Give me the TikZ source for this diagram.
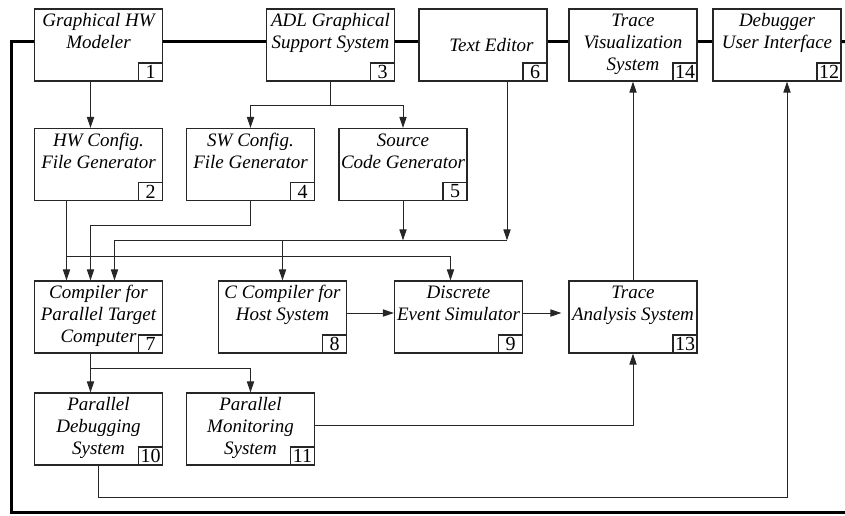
\documentclass[tikz,border=0pt]{standalone}
\usepackage{fontspec}
\setmainfont{Liberation Serif}
\usetikzlibrary{arrows.meta,calc}

\begin{document}
\begin{tikzpicture}[x=0.5pt, y=-0.5pt,
  unit/.style={rectangle,draw=black!85,line width=0.6pt,minimum width=64pt,minimum height=36pt,inner sep=0pt},
  caption/.style={anchor=north,align=center,inner sep=0pt,font=\fontsize{9.5}{11}\selectfont\itshape},
  numbox/.style={rectangle,draw=black!85,line width=0.6pt,anchor=south east,minimum width=12pt,minimum height=9pt,inner sep=0pt,font=\fontsize{10}{10}\selectfont},
  flow/.style={draw=black!85,line width=0.5pt,-{Triangle[length=5.5pt,width=3.6pt]}},
  link/.style={draw=black!85,line width=0.5pt},
  mainbus/.style={draw=black,line width=1.5pt}
]
\useasboundingbox (0,0) rectangle (845,515);

% tool boxes
\foreach \n/\x/\y/\txt in {
  1/98.5/45/{Graphical HW\\Modeler},
  3/330.5/45/{ADL Graphical\\Support System},
  14/633/45/{Trace\\Visualization\\System},
  12/777/45/{Debugger\\User Interface},
  2/98.5/164.5/{HW Config.\\File Generator},
  4/250.5/164.5/{SW Config.\\File Generator},
  5/403/164.5/{Source\\Code Generator},
  7/98.5/317/{Compiler for\\Parallel Target\\Computer},
  8/282.5/317/{C Compiler for\\Host System},
  9/458.5/317/{Discrete\\Event Simulator},
  13/633/317/{Trace\\Analysis System},
  10/98.5/429/{Parallel\\Debugging\\System},
  11/250.5/429/{Parallel\\Monitoring\\System}}
{
  \node[unit] (b\n) at (\x,\y) {};
  \node[caption] (t\n) at ([yshift=-2pt]b\n.north) {\rule{0pt}{7pt}\txt};
  \node[numbox] (n\n) at (b\n.south east) {\n};
}
\node[unit] (b6) at (483,45) {};
\node[caption] (t6) at ([xshift=4.2pt,yshift=-14.5pt]b6.north) {\rule{0pt}{7pt}Text Editor};
\node[numbox] (n6) at (b6.south east) {6};

% thick bus along the top
\coordinate (eT) at (845,41.7);
\coordinate (eB) at (845,512.3);
\coordinate (wB) at (11.5,512.3);
\foreach \a/\b in {1/3,3/6,6/14,14/12}
  \draw[mainbus] ([yshift=1.7pt]b\a.east) -- ([yshift=1.7pt]b\b.west);
\draw[mainbus] ([yshift=1.7pt]b12.east) -- (eT);
\draw[mainbus] ([yshift=1.7pt]b1.west) -| (wB) -- (eB);

% data flow
\draw[flow] ([xshift=-4pt]b1.south) -- ([xshift=-4pt]b2.north);
\draw[link] (b3.south) -- ++(0,24) coordinate (j3);
\draw[flow] (j3) -| (b4.north);
\draw[flow] (j3) -| (b5.north);

\draw[flow] ([xshift=-16pt]b2.south) -- ([xshift=-16pt]b7.north);
\draw[flow] ([xshift=-16pt]b2.south) |- ([xshift=-4pt,yshift=12pt]b9.north) -- ([xshift=-4pt]b9.north);
\draw[flow] (b4.south) -- ++(0,24) -| ([xshift=-4pt]b7.north);

\coordinate (busL) at ([xshift=8pt,yshift=20pt]b7.north);
\coordinate (s6) at ([xshift=12pt]b6.south);
\draw[link] (busL) -- (s6 |- busL);
\draw[flow] (s6) -- (s6 |- busL);
\draw[flow] (b5.south) -- (b5.south |- busL);
\draw[flow] (busL) -- ([xshift=8pt]b7.north);
\draw[flow] (b8.north |- busL) -- (b8.north);

\draw[flow] ([yshift=2pt]b8.east) -- ([yshift=2pt]b9.west);
\draw[flow,shorten >=3.5pt] ([yshift=2pt]b9.east) -- ([yshift=2pt]b13.west);
\draw[flow] (b13.north) -- (b14.south);

\draw[link] ([xshift=-4pt]b7.south) -- ++(0,15) coordinate (j7);
\draw[flow] (j7) -- ([xshift=-4pt]b10.north);
\draw[flow] (j7) -| (b11.north);
\draw[flow] ([yshift=2pt]b11.east) -| (b13.south);
\draw[flow] (b10.south) -- ++(0,32) -| ([xshift=5pt]b12.south);
\end{tikzpicture}
\end{document}
